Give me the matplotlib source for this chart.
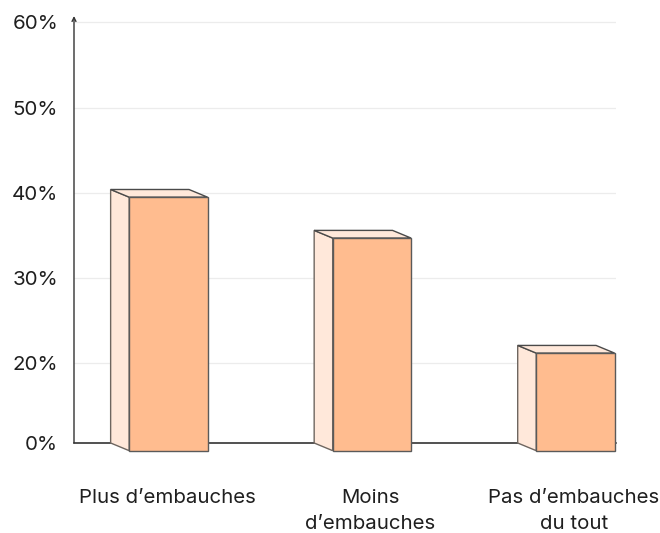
import matplotlib
matplotlib.use("Agg")
import matplotlib.pyplot as plt
from matplotlib.patches import Polygon, Rectangle

plt.rcParams['font.family'] = ['Inter', 'DejaVu Sans']

# Data
categories = ["Plus d’embauches", "Moins\nd’embauches", "Pas d’embauches\ndu tout"]
values = [40.4, 35.6, 22.1]
axis_floor = 10.65           # value sitting on the horizontal baseline
grid_ticks = [20, 30, 40, 50, 60]
tick_labels = ["0%", "20%", "30%", "40%", "50%", "60%"]

# Style
front_color = "#FFBC8F"
side_color = "#FFE8DA"
edge_color = "#4a4a4a"
text_color = "#1f1f1f"

fig = plt.figure(figsize=(6.6, 5.33), dpi=100)
ax = fig.add_axes([74 / 660, (533 - 443) / 533, (616 - 74) / 660, (443 - 16) / 533])
ax.set_xlim(-0.457, 2.206)
ax.set_ylim(axis_floor, 60.76)

# Pseudo-3D box geometry (data units)
back_left = -0.277
width = 0.385
depth_x = 0.091
depth_y = 0.90

for i, v in enumerate(values):
    xl = i + back_left
    side = Polygon([(xl, axis_floor), (xl, v), (xl + depth_x, v - depth_y),
                    (xl + depth_x, axis_floor - depth_y)], closed=True,
                   facecolor=side_color, edgecolor="#6e6660", lw=1.0,
                   clip_on=False, zorder=3)
    top = Polygon([(xl, v), (xl + width, v), (xl + width + depth_x, v - depth_y),
                   (xl + depth_x, v - depth_y)], closed=True,
                  facecolor=side_color, edgecolor=edge_color, lw=1.0,
                  clip_on=False, zorder=3)
    front = Rectangle((xl + depth_x, axis_floor - depth_y), width, v - axis_floor,
                      facecolor=front_color, edgecolor="#5a5a5a", lw=1.0,
                      clip_on=False, zorder=4)
    ax.add_patch(side)
    ax.add_patch(top)
    ax.add_patch(front)

# Grid lines
for g in grid_ticks:
    ax.axhline(g, color="#ececec", lw=0.9, zorder=0)

# Axes styling
for s in ["top", "right", "left"]:
    ax.spines[s].set_visible(False)
ax.spines["bottom"].set_color("#222222")
ax.spines["bottom"].set_linewidth(1.1)
ax.spines["bottom"].set_zorder(2)

ax.annotate("", xy=(0, 1), xytext=(0, 0), xycoords="axes fraction",
            arrowprops=dict(arrowstyle="->", lw=1.0, color="#333333",
                            mutation_scale=7, shrinkA=0, shrinkB=0),
            annotation_clip=False, zorder=5)

ax.set_yticks([axis_floor] + grid_ticks)
ax.set_yticklabels(tick_labels, fontsize=14.8, color=text_color)
ax.tick_params(axis="y", length=0, pad=11.5)

ax.set_xticks(range(len(categories)))
ax.set_xticklabels(categories, fontsize=14.7, color=text_color, linespacing=1.6)
ax.tick_params(axis="x", length=0, pad=33)

fig.savefig("out.png", dpi=100, facecolor="white")
